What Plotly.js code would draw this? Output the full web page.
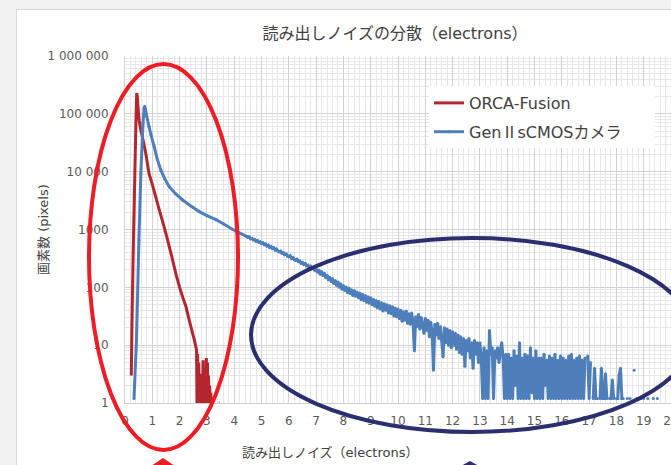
<!DOCTYPE html>
<html>
<head>
<meta charset="utf-8">
<script src="https://cdn.plot.ly/plotly-3.0.1.min.js"></script>
<style>
  html, body { margin: 0; padding: 0; background: #f2f2f2; overflow: hidden; }
  #frame { position: absolute; left: 16px; top: 9px; width: 720px; height: 520px;
           background: #ffffff; border: 1px solid #d9d9d9; }
  #chart { position: absolute; left: 0; top: 0; width: 671px; height: 465px; }
</style>
</head>
<body>
<div id="frame"></div>
<div id="chart"></div>
<script>
// Histogram of per-pixel read noise (electrons) for two cameras.

// ORCA-Fusion: sharp peak, steep tail ending in sparse counts near 3 e-
const orcaX = [0.23,0.26,0.30,0.34,0.38,0.41,0.43,0.45,0.48,0.52,
               0.58,0.66,0.76,0.88,1.00,1.22,1.40,1.56,1.72,1.86,
               2.00,2.12,2.23,2.35,2.45,2.54,2.62,
               2.64,2.66,2.68,2.70,2.72,2.74,2.76,2.78,2.80,2.82,
               2.84,2.86,2.88,2.90,2.92,2.94,2.96,2.98,3.00,3.02,
               3.04,3.06,3.08,3.10,3.12,3.14,3.16,3.18,3.44,3.46];
const orcaY = [3,32,400,3160,25100,112000,229000,200000,126000,76000,
               52500,35500,20900,9330,6030,2510,1260,660,331,174,
               100,66,47,27.5,17.8,12.3,8.3,
               1,7,1,5,1.5,3,1,3.2,1,2.8,
               1,5.5,1,4,1.3,3,1,6,1,5,
               1,3,1,2,1,1.5,1,null,1,1];

// Gen II sCMOS: main peak and smooth shoulder
const genHeadX = [0.33,0.42,0.51,0.58,0.66,0.70,0.72,0.75,0.80,0.88,
                  0.95,1.07,1.18,1.31,1.45,1.62,1.85,2.11,2.40,2.72,
                  3.00,3.33,3.60,3.95,4.20,4.45];
const genHeadY = [1.2,12.3,661,9330,69200,126000,135000,120000,89000,60300,
                  43700,26900,16600,10700,7590,5500,4170,3240,2570,2040,
                  1740,1480,1260,1000,871,760];

// Gen II sCMOS: long noisy tail out to ~19.5 e-
const genTailX = [
  4.50,4.55,4.60,4.65,4.70,4.75,4.80,4.85,4.90,4.95,
  5.00,5.05,5.10,5.15,5.20,5.25,5.30,5.35,5.40,5.45,
  5.50,5.55,5.60,5.65,5.70,5.75,5.80,5.85,5.90,5.95,
  6.00,6.05,6.10,6.15,6.20,6.25,6.30,6.35,6.40,6.45,
  6.50,6.55,6.60,6.65,6.70,6.75,6.80,6.85,6.90,6.95,
  7.00,7.05,7.10,7.15,7.20,7.25,7.30,7.35,7.40,7.45,
  7.50,7.55,7.60,7.65,7.70,7.75,7.80,7.85,7.90,7.95,
  8.00,8.05,8.10,8.15,8.20,8.25,8.30,8.35,8.40,8.45,
  8.50,8.55,8.60,8.65,8.70,8.75,8.80,8.85,8.90,8.95,
  9.00,9.05,9.10,9.15,9.20,9.25,9.30,9.35,9.40,9.45,
  9.50,9.55,9.60,9.65,9.70,9.75,9.80,9.85,9.90,9.95,
  10.00,10.05,10.10,10.15,10.20,10.25,10.30,10.35,10.40,10.45,
  10.50,10.55,10.60,10.65,10.70,10.75,10.80,10.85,10.90,10.95,
  11.00,11.05,11.10,11.15,11.20,11.25,11.30,11.35,11.40,11.45,
  11.50,11.55,11.60,11.65,11.70,11.75,11.80,11.85,11.90,11.95,
  12.00,12.05,12.10,12.15,12.20,12.25,12.30,12.35,12.40,12.45,
  12.50,12.55,12.60,12.65,12.70,12.75,12.80,12.85,12.90,12.95,
  13.00,13.05,13.10,13.15,13.20,13.25,13.30,13.35,13.40,13.45,
  13.50,13.55,13.60,13.65,13.70,13.75,13.80,13.85,13.90,13.95,
  14.00,14.05,14.10,14.15,14.20,14.25,14.30,14.35,14.40,14.45,
  14.50,14.55,14.60,14.65,14.70,14.75,14.80,14.85,14.90,14.95,
  15.00,15.05,15.10,15.15,15.20,15.25,15.30,15.35,15.40,15.45,
  15.50,15.55,15.60,15.65,15.70,15.75,15.80,15.85,15.90,15.95,
  16.00,16.05,16.10,16.15,16.20,16.25,16.30,16.35,16.40,16.45,
  16.50,16.55,16.60,16.65,16.70,16.75,16.80,16.85,16.90,16.95,
  17.00,17.05,17.10,17.15,17.20,17.25,17.30,17.35,17.40,17.45,
  17.50,17.55,17.60,17.65,17.70,17.75,17.80,17.85,17.90,17.95,
  18.00,18.05,18.10,18.15,18.20,18.25,18.30,18.35,18.40,18.45,
  18.50,18.55,18.60,18.65,18.70,18.75,18.80,18.85,18.90,18.95,
  19.00,19.05,19.10,19.15,19.20,19.25,19.30,19.35,19.40,19.45,
  19.50];
const genTailY = [
  735,748,690,702,662,671,628,644,600,611,
  574,590,548,561,519,533,490,507,472,482,
  444,458,425,411,421,388,398,367,377,349,
  338,352,318,329,304,292,305,279,286,262,
  270,249,258,236,242,221,231,212,219,198,
  205,182,199,168,188,160,176,148,162,135,
  150,126,142,116,131,108,124,100,115,93,
  108,88,101,81,97,78,91,72,87,70,
  83,66,80,61,76,59,72,55,69,53,
  66,50,62,47,59,44,57,42,54,39,
  52,40,50,36,48,35,46,32,44,31,
  42,29,40,26,38,27,39,24,35,23,
  36,25,8,31,21,34,19,30,22,16,
  29,18,27,14,25,17,3.7,23,15,24,
  13,21,12,6.3,20,11,19,10,18,9,
  17,10,16,8.5,15,7.5,14,7,13,4.3,
  12,8,13,6,11,4,12,7,11,5,
  11,6,1.2,9,1.2,8,1.2,18,7,9,
  1.2,8,6,9,5,8,11,6,1.2,7,
  1.2,7,1.2,6,1.2,8,2,6.5,1.2,11,
  1.2,6,1.2,7,1.2,6.5,1.2,9,1.5,6,
  1.2,8,1.2,6,1.2,6,1.2,7,2,5.5,
  1.2,6.5,1.2,6,1.2,7,1.2,5.5,1.2,6.5,
  1.2,6,1.2,5.5,1.2,6.5,1.2,7,1.2,5.5,
  1.2,6,1.2,6.5,1.2,5.5,1.2,6,null,6.5,
  1.2,5,null,1.2,4,1.2,1.2,null,1.2,4,
  1.2,1.2,3.2,1.2,null,1.2,1.2,2.5,1.2,null,
  1.2,1.2,3,4,1.2,1.2,null,null,1.2,null,
  1.2,null,null,3.7,null,1.2,null,null,1.2,null,
  1.2,null,null,1.2,null,null,null,1.2,null,null,
  1.2];

const seriesNames = ['ORCA-Fusion', 'Gen<span style="font-family:Noto Sans CJK JP">Ⅱ</span>sCMOSカメラ'];
const yTickVals = [1, 10, 100, 1000, 10000, 100000, 1000000];
const yTickText = ['1', '10', '100', '1000', '10 000', '100 000', '1 000 000'];

const FONT = 'DejaVu Sans, Noto Sans CJK JP, sans-serif';
const RED = '#b3262e';
const BLUE = '#4f7fbb';
const MARK_RED = '#ee1c25';
const MARK_NAVY = '#2c2f6d';

// plot area in page pixels: left 125, right 671, top 56, bottom 403
const PL = 125, PR = 671, PT = 56, PB = 403;
const px = v => (v - PL) / (PR - PL);
const py = v => (PB - v) / (PB - PT);

// minor log grid: 2..9 within each decade
const minorY = [];
for (let d = 1; d < 1000000; d *= 10) {
  for (let k = 2; k <= 9; k++) minorY.push(k * d);
}

const traces = [
  {
    x: orcaX, y: orcaY, name: seriesNames[0], legendgroup: 'a',
    type: 'scatter', mode: 'lines',
    line: { color: RED, width: 3, simplify: false }
  },
  {
    x: genHeadX.concat(genTailX), y: genHeadY.concat(genTailY),
    name: seriesNames[1], legendgroup: 'b',
    type: 'scatter', mode: 'lines+markers',
    line: { color: BLUE, width: 3, simplify: false },
    marker: { color: BLUE, size: 3 }
  }
];

const ellipse = (l, t, r, b, color) => ({
  type: 'circle', xref: 'paper', yref: 'paper',
  x0: px(l), x1: px(r), y0: py(b), y1: py(t),
  line: { color: color, width: 4 }, fillcolor: 'rgba(0,0,0,0)', layer: 'above'
});
const tri = (cx, top, half, bottom, color) => ({
  type: 'path', xref: 'paper', yref: 'paper',
  path: `M ${px(cx)},${py(top)} L ${px(cx - half)},${py(bottom)} L ${px(cx + half)},${py(bottom)} Z`,
  fillcolor: color, line: { width: 0 }, layer: 'above'
});

const layout = {
  width: 671, height: 465,
  margin: { l: PL, r: 671 - PR, t: PT, b: 465 - PB, pad: 0 },
  paper_bgcolor: 'rgba(0,0,0,0)',
  plot_bgcolor: '#ffffff',
  font: { family: FONT, size: 12, color: '#595959' },
  title: {
    text: '読み出しノイズの分散（electrons）',
    x: 395 / 671, xanchor: 'center', y: 1 - 33 / 465, yanchor: 'middle',
    font: { family: FONT, size: 16, color: '#404040' }
  },
  showlegend: true,
  legend: {
    x: px(429), y: py(86), xanchor: 'left', yanchor: 'top',
    bgcolor: 'rgba(0,0,0,0)', borderwidth: 0, tracegroupgap: 5,
    font: { family: FONT, size: 16, color: '#404040' }
  },
  xaxis: {
    range: [0, 20], tickmode: 'linear', tick0: 0, dtick: 1,
    showgrid: true, gridcolor: '#d2d2d2', gridwidth: 1,
    zeroline: false, showline: true, linecolor: '#cfcfcf', linewidth: 1,
    ticks: '', ticklabelstandoff: 7, ticklabeloverflow: 'allow',
    tickfont: { family: FONT, size: 12, color: '#595959' },
    minor: { dtick: 0.2, tick0: 0, showgrid: true, gridcolor: '#e7e7e7', gridwidth: 1 }
  },
  yaxis: {
    type: 'log', range: [0, 6], tickmode: 'array',
    tickvals: yTickVals, ticktext: yTickText,
    showgrid: true, gridcolor: '#d2d2d2', gridwidth: 1,
    zeroline: false, showline: true, linecolor: '#d2d2d2', linewidth: 1,
    ticks: '', ticklabelstandoff: 13,
    tickfont: { family: FONT, size: 12, color: '#595959' },
    minor: { tickmode: 'array', tickvals: minorY, showgrid: true, gridcolor: '#e7e7e7', gridwidth: 1 }
  },
  annotations: [
    {
      text: '読み出しノイズ（electrons）', xref: 'paper', yref: 'paper',
      x: px(330), y: py(452), xanchor: 'center', yanchor: 'middle', showarrow: false,
      font: { family: FONT, size: 13, color: '#404040' }
    },
    {
      text: '画素数 (pixels)', xref: 'paper', yref: 'paper', textangle: -90,
      x: px(43), y: py(230), xanchor: 'center', yanchor: 'middle', showarrow: false,
      font: { family: FONT, size: 13, color: '#404040' }
    }
  ],
  shapes: [
    // legend backing panel
    { type: 'rect', xref: 'paper', yref: 'paper',
      x0: px(429), x1: px(655), y0: py(148), y1: py(86),
      fillcolor: '#ffffff', line: { width: 0 }, layer: 'above' },
    // highlight marks
    ellipse(89, 64, 238, 450, MARK_RED),
    ellipse(251, 238, 693, 432, MARK_NAVY),
    tri(163, 458, 21, 472, MARK_RED),
    tri(470, 461, 20, 472, MARK_NAVY)
  ]
};

Plotly.newPlot('chart', traces, layout, { displayModeBar: false, staticPlot: true });
</script>
</body>
</html>
